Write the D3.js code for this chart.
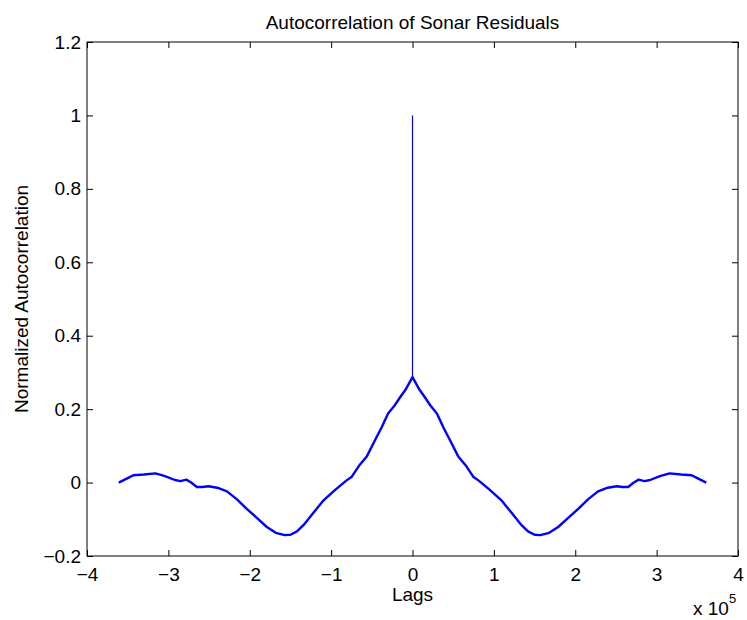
<!DOCTYPE html>
<html>
<head>
<meta charset="utf-8">
<script src="https://cdn.jsdelivr.net/npm/d3@7"></script>
<style>
  body { margin: 0; background: #fff; }
  text { font-family: "Liberation Sans", Arial, Helvetica, sans-serif; fill: #000; }
</style>
</head>
<body>
<div id="container"></div>
<script>
// lags in units of 1e5
const lags = [-3.61, -3.50, -3.43, -3.30, -3.16, -3.05, -2.92, -2.85, -2.78, -2.72,
  -2.65, -2.58, -2.51, -2.40, -2.28, -2.16, -2.04, -1.92, -1.79, -1.68,
  -1.57, -1.50, -1.42, -1.34, -1.22, -1.10, -0.95, -0.81, -0.75, -0.66,
  -0.56, -0.45, -0.38, -0.30, -0.22, -0.15, -0.08, 0,
  0.08, 0.15, 0.22, 0.30, 0.38, 0.45, 0.56, 0.66, 0.75, 0.81,
  0.95, 1.10, 1.22, 1.34, 1.42, 1.50, 1.57, 1.68, 1.79, 1.92,
  2.04, 2.16, 2.28, 2.40, 2.51, 2.58, 2.65, 2.72, 2.78, 2.85,
  2.92, 3.05, 3.16, 3.30, 3.43, 3.50, 3.61]
const values = [0.000, 0.012, 0.020, 0.022, 0.025, 0.018, 0.007, 0.004, 0.008, 0.000,
  -0.012, -0.012, -0.010, -0.014, -0.024, -0.045, -0.071, -0.095, -0.121, -0.137,
  -0.143, -0.142, -0.133, -0.116, -0.083, -0.050, -0.020, 0.006, 0.015, 0.045,
  0.072, 0.120, 0.150, 0.188, 0.210, 0.233, 0.255, 0.287,
  0.255, 0.233, 0.210, 0.188, 0.150, 0.120, 0.072, 0.045, 0.015, 0.006,
  -0.020, -0.050, -0.083, -0.116, -0.133, -0.142, -0.143, -0.137, -0.121, -0.095,
  -0.071, -0.045, -0.024, -0.014, -0.010, -0.012, -0.012, 0.000, 0.008, 0.004,
  0.007, 0.018, 0.025, 0.022, 0.020, 0.012, 0.000]
// zero-lag spike
const spikeLag = 0
const spikeValue = 1

const xTicks = [-4, -3, -2, -1, 0, 1, 2, 3, 4]
const xTickLabels = ['\u22124', '\u22123', '\u22122', '\u22121', '0', '1', '2', '3', '4']
const yTicks = [-0.2, 0, 0.2, 0.4, 0.6, 0.8, 1, 1.2]
const yTickLabels = ['\u22120.2', '0', '0.2', '0.4', '0.6', '0.8', '1', '1.2']

const w = 747
const h = 620
const margin = { top: 42, right: 9, bottom: 64, left: 87 }
const fontSize = 19

const svg = d3.select('#container')
  .append('svg')
  .attr('width', w)
  .attr('height', h)

const xScale = d3.scaleLinear().domain([-4, 4]).range([margin.left, w - margin.right])
const yScale = d3.scaleLinear().domain([-0.2, 1.2]).range([h - margin.bottom, margin.top])

const tickLen = 6

// axes: bottom/left with labels, top/right ticks only (box)
const xAxis = d3.axisBottom(xScale).tickValues(xTicks)
  .tickSizeInner(-tickLen).tickSizeOuter(0).tickPadding(12)
  .tickFormat((d, i) => xTickLabels[i])
const yAxis = d3.axisLeft(yScale).tickValues(yTicks)
  .tickSizeInner(-tickLen).tickSizeOuter(0).tickPadding(6)
  .tickFormat((d, i) => yTickLabels[i])

svg.append('g')
  .attr('transform', `translate(0,${h - margin.bottom})`)
  .call(xAxis)
svg.append('g')
  .attr('transform', `translate(${margin.left},0)`)
  .call(yAxis)

svg.append('g')
  .attr('transform', `translate(0,${margin.top})`)
  .call(d3.axisTop(xScale).tickValues(xTicks).tickSizeInner(-tickLen).tickSizeOuter(0).tickFormat(''))
svg.append('g')
  .attr('transform', `translate(${w - margin.right},0)`)
  .call(d3.axisRight(yScale).tickValues(yTicks).tickSizeInner(-tickLen).tickSizeOuter(0).tickFormat(''))

svg.selectAll('.domain').remove()
svg.selectAll('.tick line').attr('stroke', '#000')
svg.selectAll('.tick text')
  .style('font-size', fontSize + 'px')
  .style('font-family', '"Liberation Sans", Arial, sans-serif')

// box
svg.append('rect')
  .attr('x', margin.left)
  .attr('y', margin.top)
  .attr('width', w - margin.left - margin.right)
  .attr('height', h - margin.top - margin.bottom)
  .attr('fill', 'none')
  .attr('stroke', '#000')
  .attr('stroke-width', 1)

// data
const pts = lags.map((l, i) => [l, values[i]])
const line = d3.line()
  .x(d => xScale(d[0]))
  .y(d => yScale(d[1]))

svg.append('path')
  .datum(pts)
  .attr('d', line)
  .attr('fill', 'none')
  .attr('stroke', '#0000ff')
  .attr('stroke-width', 2.4)
  .attr('stroke-linejoin', 'round')

const peakIdx = lags.indexOf(spikeLag)
svg.append('line')
  .attr('x1', xScale(spikeLag))
  .attr('x2', xScale(spikeLag))
  .attr('y1', yScale(values[peakIdx]))
  .attr('y2', yScale(spikeValue))
  .attr('stroke', '#0000ff')
  .attr('stroke-width', 1.2)

// titles
const cx = (margin.left + w - margin.right) / 2

svg.append('text')
  .attr('x', cx)
  .attr('y', 29)
  .attr('text-anchor', 'middle')
  .style('font-size', fontSize + 'px')
  .text('Autocorrelation of Sonar Residuals')

svg.append('text')
  .attr('x', cx)
  .attr('y', 601)
  .attr('text-anchor', 'middle')
  .style('font-size', fontSize + 'px')
  .text('Lags')

svg.append('text')
  .attr('transform', `translate(28,${(margin.top + h - margin.bottom) / 2}) rotate(-90)`)
  .attr('text-anchor', 'middle')
  .style('font-size', fontSize + 'px')
  .text('Normalized Autocorrelation')

const expo = svg.append('text')
  .attr('x', 693)
  .attr('y', 615)
  .style('font-size', fontSize + 'px')
expo.append('tspan').text('x 10')
expo.append('tspan')
  .attr('dy', -12)
  .style('font-size', '13px')
  .text('5')
</script>
</body>
</html>
